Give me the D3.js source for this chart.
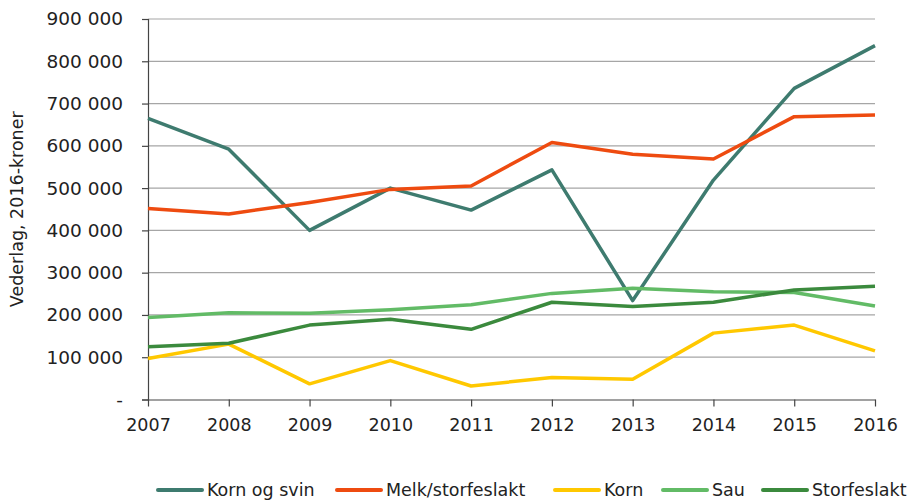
<!DOCTYPE html>
<html lang="no">
<head>
<meta charset="UTF-8">
<title>Vederlag</title>
<script src="https://d3js.org/d3.v7.min.js"></script>
<style>
  body { margin: 0; background: #fff; }
  svg text { font-family: "DejaVu Sans", sans-serif; fill: #222; }
</style>
</head>
<body>
<svg width="915" height="501"></svg>
<script>
// data
var years = [2007, 2008, 2009, 2010, 2011, 2012, 2013, 2014, 2015, 2016];
var kornOgSvin = [665000, 592000, 400000, 500000, 448000, 543000, 234000, 519000, 736000, 837000];
var melkStorfeslakt = [452000, 439000, 466000, 497000, 505000, 608000, 580000, 569000, 669000, 673000];
var korn = [97000, 131000, 37000, 92000, 32000, 52000, 48000, 157000, 176000, 115000];
var sau = [194000, 205000, 204000, 212000, 224000, 251000, 263000, 255000, 253000, 221000];
var storfeslakt = [125000, 133000, 176000, 190000, 166000, 230000, 220000, 230000, 259000, 268000];
var seriesNames = ["Korn og svin", "Melk/storfeslakt", "Korn", "Sau", "Storfeslakt"];
var seriesColors = ["#3e7b6f", "#ee4b10", "#ffc800", "#62bb66", "#3b8a3d"];
var yTicks = [0, 100000, 200000, 300000, 400000, 500000, 600000, 700000, 800000, 900000];

var series = [kornOgSvin, melkStorfeslakt, korn, sau, storfeslakt];

var margin = { top: 19, right: 40, bottom: 102, left: 148 };
var width = 875 - margin.left;
var height = 399.5 - margin.top;

var svg = d3.select("svg")
  .append("g")
  .attr("transform", "translate(" + margin.left + "," + margin.top + ")");

var x = d3.scaleLinear().domain([2007, 2016]).range([0, width]);
var y = d3.scaleLinear().domain([0, 900000]).range([height, 0]);

// format "900 000", zero shown as "-"
function fmt(v) {
  if (v === 0) return "-";
  return d3.format(",")(v).replace(/,/g, " ");
}

// gridlines
svg.append("g")
  .selectAll("line")
  .data(yTicks.slice(1))
  .enter().append("line")
  .attr("x1", 0)
  .attr("x2", width)
  .attr("y1", function(d) { return y(d); })
  .attr("y2", function(d) { return y(d); })
  .attr("stroke", "#a6a6a6")
  .attr("stroke-width", 1.2);

// y axis
var yAxis = svg.append("g")
  .call(d3.axisLeft(y).tickValues(yTicks).tickSize(6).tickPadding(19).tickFormat(fmt));
yAxis.select(".domain").attr("stroke", "#444").attr("stroke-width", 1.2);
yAxis.selectAll(".tick line").attr("stroke", "#444").attr("stroke-width", 1.2);
yAxis.selectAll("text").style("font-size", "18.5px");

// x axis
var xAxis = svg.append("g")
  .attr("transform", "translate(0," + height + ")")
  .call(d3.axisBottom(x).tickValues(years).tickSize(7).tickSizeOuter(0).tickPadding(12).tickFormat(d3.format("d")));
xAxis.select(".domain").attr("stroke", "#444").attr("stroke-width", 1.2);
xAxis.selectAll(".tick line").attr("stroke", "#444").attr("stroke-width", 1.2);
xAxis.selectAll("text").style("font-size", "17.5px");

// y axis title
svg.append("text")
  .attr("transform", "rotate(-90)")
  .attr("x", -height / 2)
  .attr("y", -margin.left + 23)
  .attr("text-anchor", "middle")
  .style("font-size", "17.5px")
  .text("Vederlag, 2016-kroner");

// lines
var line = d3.line()
  .x(function(d, i) { return x(years[i]); })
  .y(function(d) { return y(d); });

svg.selectAll(".series")
  .data(series)
  .enter().append("path")
  .attr("class", "series")
  .attr("fill", "none")
  .attr("stroke", function(d, i) { return seriesColors[i]; })
  .attr("stroke-width", 3.5)
  .attr("stroke-linejoin", "round")
  .attr("d", line);

// legend
var legendX = [158, 337, 555, 663, 763];
var legend = d3.select("svg").append("g")
  .attr("transform", "translate(0,490)");
var item = legend.selectAll("g")
  .data(seriesNames)
  .enter().append("g")
  .attr("transform", function(d, i) { return "translate(" + legendX[i] + ",0)"; });
item.append("line")
  .attr("x1", 0).attr("x2", 44)
  .attr("stroke", function(d, i) { return seriesColors[i]; })
  .attr("stroke-width", 4)
  .attr("stroke-linecap", "round");
item.append("text")
  .attr("x", 49)
  .attr("dy", "0.35em")
  .style("font-size", "17.5px")
  .text(function(d) { return d; });
</script>
</body>
</html>
